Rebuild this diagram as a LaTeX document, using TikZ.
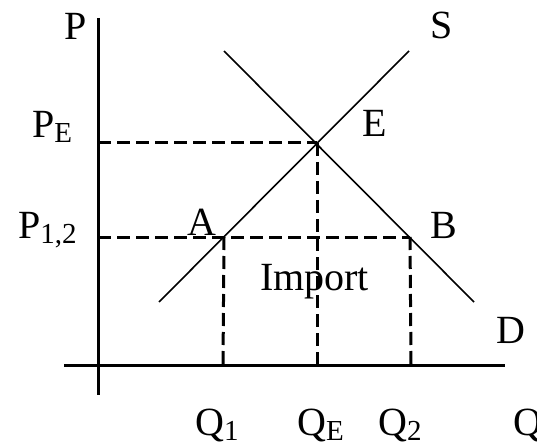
\documentclass[tikz,border=0pt]{standalone}
\usepackage{fontspec}
\setmainfont{Liberation Serif}
\newcommand{\bajo}[1]{\raisebox{-5pt}{\fontsize{29}{29}\selectfont #1}}
\tikzset{
  eje/.style={line width=3pt},
  curva/.style={line width=1.6pt},
  guia/.style={line width=3pt, dash pattern=on 13pt off 6pt},
  etiqueta/.style={anchor=base west, inner sep=0pt, font=\fontsize{40}{40}\selectfont},
}
\begin{document}
\begin{tikzpicture}[x=1pt,y=-1pt]
\useasboundingbox (0,0) rectangle (537,446);
% Ejes
\coordinate (ejeArriba) at (98,18);
\coordinate (ejeAbajo) at (98,395);
\coordinate (ejeIzq) at (64,365);
\coordinate (ejeDer) at (505,365);
\draw[eje] (ejeArriba) -- (ejeAbajo);
\draw[eje] (ejeIzq) -- (ejeDer);

% Oferta y demanda
\coordinate (S0) at (159,302);
\coordinate (S1) at (409,51);
\coordinate (D0) at (224,51);
\coordinate (D1) at (474,302);
\draw[curva] (S0) -- (S1);
\draw[curva] (D0) -- (D1);

% Puntos
\coordinate (E) at (317,143);
\coordinate (A) at (224,237);
\coordinate (B) at (410,237);
\coordinate (PE) at (98,143);
\coordinate (P12) at (98,237);
\coordinate (Q1) at (223,365);
\coordinate (QE) at (317,365);
\coordinate (Q2) at (411,365);

% Líneas guía
\draw[guia] (PE) -- (E);
\draw[guia] (P12) -- (B);
\draw[guia] (A) -- (Q1);
\draw[guia] (E) -- (QE);
\draw[guia] (B) -- (Q2);

% Etiquetas
\node[etiqueta] (lP) at (64,40) {P};
\node[etiqueta] (lPE) at (32,138) {P\bajo{E}};
\node[etiqueta] (lP12) at (18,238) {P\bajo{1,2}};
\node[etiqueta] (lA) at (187,235) {A};
\node[etiqueta] (lE) at (362,137) {E};
\node[etiqueta] (lS) at (430,39) {S};
\node[etiqueta] (lB) at (430,238) {B};
\node[etiqueta] (lD) at (496,343) {D};
\node[etiqueta] (lImport) at (260,290) {Import};
\node[etiqueta] (lQ1) at (195,435) {Q\bajo{1}};
\node[etiqueta] (lQE) at (297,435) {Q\bajo{E}};
\node[etiqueta] (lQ2) at (378,435) {Q\bajo{2}};
\node[etiqueta] (lQ) at (513,435) {Q};
\end{tikzpicture}
\end{document}
